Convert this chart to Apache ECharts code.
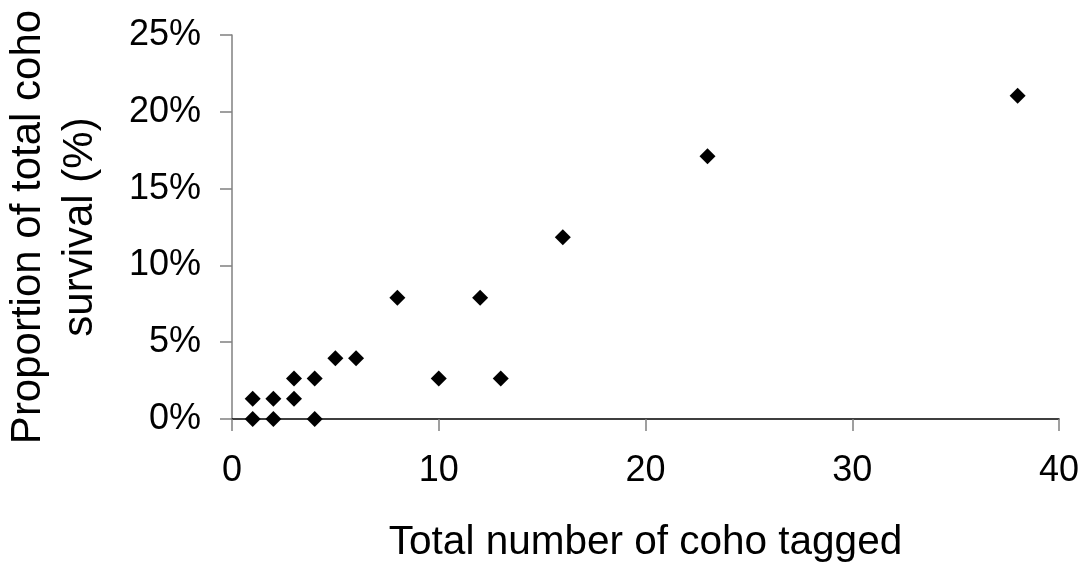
<!DOCTYPE html>
<html>
<head>
<meta charset="utf-8">
<script src="https://cdn.jsdelivr.net/npm/echarts@6/dist/echarts.min.js"></script>
<style>
  html, body { margin: 0; padding: 0; background: #fff; }
  #main { width: 1088px; height: 571px; }
</style>
</head>
<body>
<div id="main"></div>
<script>
// coho tagged vs share of survival
var tagged   = [1, 1, 2, 2, 3, 3, 4, 4, 5, 6, 8, 10, 12, 13, 16, 23, 38];
var survival = [1.32, 0, 1.32, 0, 2.63, 1.32, 2.63, 0, 3.95, 3.95, 7.89, 2.63, 7.89, 2.63, 11.84, 17.11, 21.05];
var xTicks = [0, 10, 20, 30, 40];
var yTicks = [0, 5, 10, 15, 20, 25];

var points = [];
for (var i = 0; i < tagged.length; i++) {
  points.push([tagged[i], survival[i]]);
}

var fnt = "'Liberation Sans', Arial, sans-serif";
var myChart = echarts.init(document.getElementById("main"));
var option = {
  backgroundColor: "#fff",
  animation: false,
  grid: { left: 232, top: 35, right: 29, bottom: 152, outerBoundsMode: "none", containLabel: false },
  xAxis: {
    type: "value",
    min: xTicks[0],
    max: xTicks[xTicks.length - 1],
    interval: 10,
    name: "Total number of coho tagged",
    nameLocation: "middle",
    nameGap: 103,
    nameTextStyle: { fontFamily: fnt, fontSize: 40.5, color: "#000" },
    axisLine: { show: true, onZero: false, lineStyle: { color: "#000", width: 1.5 } },
    axisTick: { show: true, inside: false, length: 12, lineStyle: { color: "#808080", width: 1.5 } },
    axisLabel: { margin: 34, fontFamily: fnt, fontSize: 36, color: "#000" },
    splitLine: { show: false }
  },
  yAxis: {
    type: "value",
    min: yTicks[0],
    max: yTicks[yTicks.length - 1],
    interval: 5,
    name: "Proportion of total coho\nsurvival (%)",
    nameLocation: "middle",
    nameGap: 126,
    nameRotate: 90,
    nameTextStyle: { fontFamily: fnt, fontSize: 42, color: "#000", lineHeight: 52, align: "center" },
    axisLine: { show: true, lineStyle: { color: "#808080", width: 1.5 } },
    axisTick: { show: true, inside: false, length: 12, lineStyle: { color: "#808080", width: 1.5 } },
    axisLabel: { margin: 31, fontFamily: fnt, fontSize: 36, color: "#000", formatter: "{value}%" },
    splitLine: { show: false }
  },
  series: [{
    type: "scatter",
    symbol: "diamond",
    symbolSize: [16, 16],
    itemStyle: { color: "#000", opacity: 1 },
    data: points
  }]
};
myChart.setOption(option);
</script>
</body>
</html>
